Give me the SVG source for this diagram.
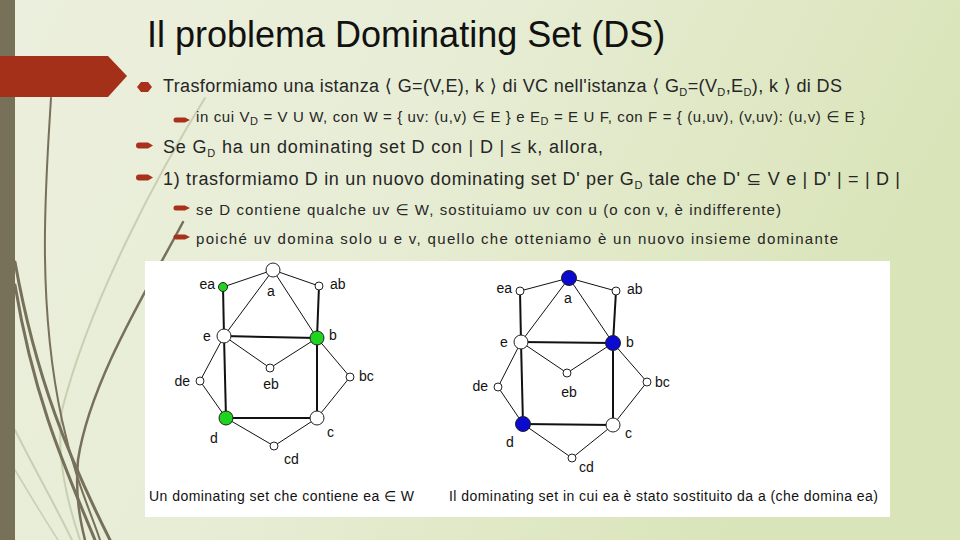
<svg xmlns="http://www.w3.org/2000/svg" width="960" height="540" viewBox="0 0 960 540">
<defs>
<linearGradient id="bg" x1="0" y1="0" x2="1" y2="0.3">
<stop offset="0" stop-color="#ebefdd"/>
<stop offset="0.45" stop-color="#e8edd6"/>
<stop offset="1" stop-color="#d9e4b8"/>
</linearGradient>
<style>
.title{font-family:"Liberation Sans",Arial,sans-serif;font-size:36px;fill:#111}
.l1{font-family:"Liberation Sans",Arial,"DejaVu Sans",sans-serif;font-size:18px;fill:#262626}
.l2{font-family:"Liberation Sans",Arial,"DejaVu Sans",sans-serif;font-size:15px;fill:#262626}
.sub{font-size:11px}
.bul{fill:#a8311b}
.deco{fill:none;stroke:#77705a;stroke-linecap:round}
.decol{fill:none;stroke:#c9cfb3;stroke-linecap:round}
.lab{font-family:"Liberation Sans",Arial,sans-serif;font-size:14px;fill:#111}
.cap{font-family:"Liberation Sans",Arial,sans-serif;font-size:14px;fill:#111}
.e1{stroke:#111;stroke-width:1;fill:none}
.e2{stroke:#111;stroke-width:2;fill:none}
.nw{fill:#fff;stroke:#222;stroke-width:1}
.ng{fill:#1fd41f;stroke:#222;stroke-width:1}
.nb{fill:#0a0ad0;stroke:#222;stroke-width:1}
</style>
</defs>
<rect width="960" height="540" fill="url(#bg)"/>
<g id="decoration">
<path class="decol" stroke-width="2" d="M205,98 C160,170 90,300 62,410 C55,460 70,510 80,540"/>
<path class="decol" stroke-width="2" d="M15,430 C35,470 55,505 72,540"/>
<path class="decol" stroke-width="1.5" d="M15,470 C30,495 45,520 58,540"/>
<path class="deco" stroke-width="2" d="M51,98 C46,180 36,300 62,420 C75,480 92,515 100,540"/>
<path class="deco" stroke-width="3" d="M15,262 C36,380 70,460 110,540"/>
<path class="deco" stroke-width="3" d="M15,285 C34,400 66,470 95,540"/>
<path class="deco" stroke-width="2.5" d="M183,222 C150,285 90,380 78,460 C75,495 80,520 85,540"/>
</g>
<rect x="0" y="0" width="15" height="540" fill="#78715a"/>
<polygon points="0,56 108,56 127,76 108,97 0,97" fill="#a5301a"/>
<text class="title" x="147" y="47">Il problema Dominating Set (DS)</text>
<g id="bullets">
<polygon class="bul" points="137,87 141,82 148,82 152,87 148,92 141,92"/>
<path class="bul" d="M176,117.5 h9 l5,2.5 l-5,2.5 h-9 a2.5,2.5 0 0 1 0,-5 z"/>
<path class="bul" d="M139,142.5 h9 l5,3 l-5,3 h-9 a3,3 0 0 1 0,-6 z"/>
<path class="bul" d="M139,174.5 h9 l5,3 l-5,3 h-9 a3,3 0 0 1 0,-6 z"/>
<path class="bul" d="M176,205.5 h9 l5,2.5 l-5,2.5 h-9 a2.5,2.5 0 0 1 0,-5 z"/>
<path class="bul" d="M176,234.5 h9 l5,2.5 l-5,2.5 h-9 a2.5,2.5 0 0 1 0,-5 z"/>
</g>
<g id="text">
<text class="l1" x="163" y="92" textLength="679">Trasformiamo una istanza ⟨ G=(V,E), k ⟩ di VC nell'istanza ⟨ G<tspan class="sub" dy="4">D</tspan><tspan dy="-4">=(V</tspan><tspan class="sub" dy="4">D</tspan><tspan dy="-4">,E</tspan><tspan class="sub" dy="4">D</tspan><tspan dy="-4">), k ⟩ di DS</tspan></text>
<text class="l2" x="196" y="122" textLength="669">in cui V<tspan class="sub" dy="3">D</tspan><tspan dy="-3"> = V U W, con W = { uv: (u,v) ∈ E } e E</tspan><tspan class="sub" dy="3">D</tspan><tspan dy="-3"> = E U F, con F = { (u,uv), (v,uv): (u,v) ∈ E }</tspan></text>
<text class="l1" x="163" y="153" textLength="440">Se G<tspan class="sub" dy="4">D</tspan><tspan dy="-4"> ha un dominating set D con | D | ≤ k, allora,</tspan></text>
<text class="l1" x="163" y="185" textLength="737">1) trasformiamo D in un nuovo dominating set D' per G<tspan class="sub" dy="4">D</tspan><tspan dy="-4"> tale che D' ⊆ V e  | D' | = | D |</tspan></text>
<text class="l2" x="196" y="215" textLength="585">se D contiene qualche uv ∈ W, sostituiamo uv con u (o con v, è indifferente)</text>
<text class="l2" x="196" y="244" textLength="642">poiché uv domina solo u e v, quello che otteniamo è un nuovo insieme dominante</text>
</g>
<rect x="145" y="261" width="745" height="256" fill="#ffffff"/>
<g id="connectors">
<!-- left graph -->
<line class="e1" x1="223" y1="287" x2="273" y2="270"/>
<line class="e1" x1="273" y1="270" x2="319" y2="286"/>
<line class="e2" x1="223" y1="287" x2="224" y2="336"/>
<line class="e2" x1="319" y1="286" x2="317" y2="338"/>
<line class="e1" x1="273" y1="270" x2="224" y2="336"/>
<line class="e1" x1="273" y1="270" x2="317" y2="338"/>
<line class="e2" x1="224" y1="336" x2="317" y2="338"/>
<line class="e1" x1="224" y1="336" x2="270" y2="368"/>
<line class="e1" x1="270" y1="368" x2="317" y2="338"/>
<line class="e1" x1="224" y1="336" x2="200" y2="381"/>
<line class="e1" x1="200" y1="381" x2="226" y2="418"/>
<line class="e2" x1="224" y1="336" x2="226" y2="418"/>
<line class="e1" x1="317" y1="338" x2="350" y2="377"/>
<line class="e1" x1="350" y1="377" x2="317" y2="418"/>
<line class="e2" x1="317" y1="338" x2="317" y2="418"/>
<line class="e2" x1="226" y1="418" x2="317" y2="418"/>
<line class="e1" x1="226" y1="418" x2="274" y2="446"/>
<line class="e1" x1="274" y1="446" x2="317" y2="418"/>
<!-- right graph -->
<line class="e1" x1="520" y1="291" x2="569" y2="278"/>
<line class="e1" x1="569" y1="278" x2="616" y2="291"/>
<line class="e2" x1="520" y1="291" x2="521" y2="342"/>
<line class="e2" x1="616" y1="291" x2="613" y2="343"/>
<line class="e1" x1="569" y1="278" x2="521" y2="342"/>
<line class="e1" x1="569" y1="278" x2="613" y2="343"/>
<line class="e2" x1="521" y1="342" x2="613" y2="343"/>
<line class="e1" x1="521" y1="342" x2="567" y2="373"/>
<line class="e1" x1="567" y1="373" x2="613" y2="343"/>
<line class="e1" x1="521" y1="342" x2="498" y2="387"/>
<line class="e1" x1="498" y1="387" x2="523" y2="424"/>
<line class="e2" x1="521" y1="342" x2="523" y2="424"/>
<line class="e1" x1="613" y1="343" x2="647" y2="382"/>
<line class="e1" x1="647" y1="382" x2="613" y2="425"/>
<line class="e2" x1="613" y1="343" x2="613" y2="425"/>
<line class="e2" x1="523" y1="424" x2="613" y2="425"/>
<line class="e1" x1="523" y1="424" x2="572" y2="458"/>
<line class="e1" x1="572" y1="458" x2="613" y2="425"/>
</g>
<g id="L-ea"><circle class="ng" cx="223" cy="287" r="4.5"/><text class="lab" x="215" y="289" text-anchor="end">ea</text></g>
<g id="L-a"><circle class="nw" cx="273" cy="270" r="7"/><text class="lab" x="271" y="296" text-anchor="middle">a</text></g>
<g id="L-ab"><circle class="nw" cx="319" cy="286" r="4"/><text class="lab" x="330" y="289">ab</text></g>
<g id="L-e"><circle class="nw" cx="224" cy="336" r="7"/><text class="lab" x="207" y="341" text-anchor="middle">e</text></g>
<g id="L-b"><circle class="ng" cx="317" cy="338" r="7"/><text class="lab" x="329" y="340">b</text></g>
<g id="L-eb"><circle class="nw" cx="270" cy="368" r="4"/><text class="lab" x="271" y="389" text-anchor="middle">eb</text></g>
<g id="L-de"><circle class="nw" cx="200" cy="381" r="4"/><text class="lab" x="190" y="386" text-anchor="end">de</text></g>
<g id="L-bc"><circle class="nw" cx="350" cy="377" r="4"/><text class="lab" x="359" y="381">bc</text></g>
<g id="L-d"><circle class="ng" cx="226" cy="418" r="7"/><text class="lab" x="214" y="443" text-anchor="middle">d</text></g>
<g id="L-c"><circle class="nw" cx="317" cy="418" r="7"/><text class="lab" x="327" y="437">c</text></g>
<g id="L-cd"><circle class="nw" cx="274" cy="446" r="4"/><text class="lab" x="284" y="464">cd</text></g>
<g id="R-ea"><circle class="nw" cx="520" cy="291" r="4"/><text class="lab" x="512" y="293" text-anchor="end">ea</text></g>
<g id="R-a"><circle class="nb" cx="569" cy="278" r="7.5"/><text class="lab" x="568" y="303" text-anchor="middle">a</text></g>
<g id="R-ab"><circle class="nw" cx="616" cy="291" r="4"/><text class="lab" x="627" y="294">ab</text></g>
<g id="R-e"><circle class="nw" cx="521" cy="342" r="7"/><text class="lab" x="504" y="347" text-anchor="middle">e</text></g>
<g id="R-b"><circle class="nb" cx="613" cy="343" r="7.5"/><text class="lab" x="626" y="347">b</text></g>
<g id="R-eb"><circle class="nw" cx="567" cy="373" r="4"/><text class="lab" x="569" y="397" text-anchor="middle">eb</text></g>
<g id="R-de"><circle class="nw" cx="498" cy="387" r="4"/><text class="lab" x="488" y="391" text-anchor="end">de</text></g>
<g id="R-bc"><circle class="nw" cx="647" cy="382" r="4"/><text class="lab" x="655" y="387">bc</text></g>
<g id="R-d"><circle class="nb" cx="523" cy="424" r="7.5"/><text class="lab" x="510" y="447" text-anchor="middle">d</text></g>
<g id="R-c"><circle class="nw" cx="613" cy="425" r="7"/><text class="lab" x="625" y="438">c</text></g>
<g id="R-cd"><circle class="nw" cx="572" cy="458" r="4"/><text class="lab" x="579" y="472">cd</text></g>
<g id="captions">
<text class="cap" x="149" y="501" textLength="265">Un dominating set che contiene ea ∈ W</text>
<text class="cap" x="449" y="501" textLength="429">Il dominating set in cui ea è stato sostituito da a (che domina ea)</text>
</g>
</svg>
